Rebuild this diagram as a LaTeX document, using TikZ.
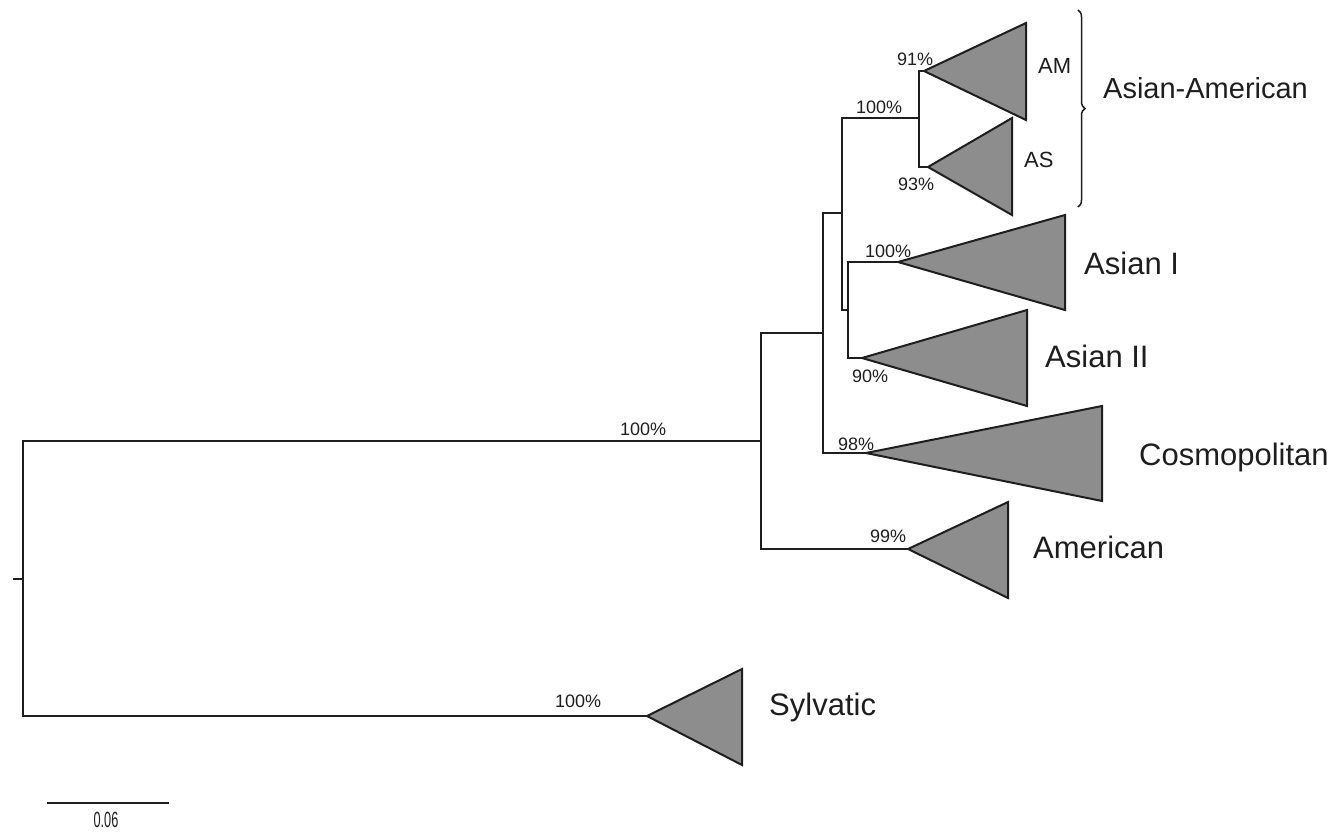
\documentclass[tikz,border=0pt]{standalone}
\usepackage{fontspec}
\setmainfont{Liberation Sans}
\usetikzlibrary{decorations.pathreplacing}
\definecolor{cladefill}{RGB}{141,141,141}
\definecolor{inkline}{RGB}{30,30,30}
\begin{document}
\begin{tikzpicture}[x=1pt,y=-1pt,
  branch/.style={draw=inkline,line width=2pt},
  clade/.style={draw=inkline,fill=cladefill,line width=2pt,line join=miter},
  pct/.style={anchor=base west,inner sep=0pt,font=\fontsize{18}{20}\selectfont,text=inkline},
  bigl/.style={anchor=base west,inner sep=0pt,font=\fontsize{31}{34}\selectfont,text=inkline},
  smalll/.style={anchor=base west,inner sep=0pt,font=\fontsize{22}{24}\selectfont,text=inkline}]
\useasboundingbox (0,0) rectangle (1342,831);
% internal nodes
\coordinate (stub) at (13,579);
\coordinate (root) at (23,579);
\coordinate (A) at (761,441);
\coordinate (B) at (823,333);
\coordinate (C) at (842,213);
\coordinate (D) at (919,118);
\coordinate (E) at (848,310);
% clade apexes
\coordinate (amA) at (924,71);
\coordinate (asA) at (928,167);
\coordinate (a1A) at (898,262);
\coordinate (a2A) at (862,358);
\coordinate (coA) at (866,453);
\coordinate (ameA) at (908,549);
\coordinate (syA) at (647,716);
% connectors
\draw[branch] (stub) -- (root);
\draw[branch] (root) |- (A);
\draw[branch] (root) |- (syA);
\draw[branch] (A) |- (B);
\draw[branch] (A) |- (ameA);
\draw[branch] (B) |- (C);
\draw[branch] (B) |- (coA);
\draw[branch] (C) |- (D);
\draw[branch] (C) |- (E);
\draw[branch] (D) |- (amA);
\draw[branch] (D) |- (asA);
\draw[branch] (E) |- (a1A);
\draw[branch] (E) |- (a2A);
% collapsed clades
\draw[clade] (amA) -- (1026,23) -- (1026,120) -- cycle;
\draw[clade] (asA) -- (1012,118) -- (1012,215) -- cycle;
\draw[clade] (a1A) -- (1065,215) -- (1065,310) -- cycle;
\draw[clade] (a2A) -- (1027,310) -- (1027,406) -- cycle;
\draw[clade] (coA) -- (1102,406) -- (1102,501) -- cycle;
\draw[clade] (ameA) -- (1008,502) -- (1008,598) -- cycle;
\draw[clade] (syA) -- (742,669) -- (742,765) -- cycle;
% support values
\node[pct] (p91) at (897,65) {91\%};
\node[pct] (pD) at (856,113) {100\%};
\node[pct] (p93) at (898,190) {93\%};
\node[pct] (pA1) at (865,257) {100\%};
\node[pct] (p90) at (852,382) {90\%};
\node[pct] (p98) at (838,450) {98\%};
\node[pct] (p99) at (870,542) {99\%};
\node[pct] (pA) at (620,435) {100\%};
\node[pct] (pS) at (555,707) {100\%};
% clade labels
\node[smalll] (lAM) at (1038,73) {AM};
\node[smalll] (lAS) at (1024,167) {AS};
\node[bigl,font=\fontsize{29}{32}\selectfont] (lAA) at (1103,98) {Asian-American};
\node[bigl] (lA1) at (1084,274) {Asian I};
\node[bigl] (lA2) at (1045,367) {Asian II};
\node[bigl] (lCo) at (1139,465) {Cosmopolitan};
\node[bigl] (lAm) at (1033,558) {American};
\node[bigl] (lSy) at (769,715) {Sylvatic};
% brace
\coordinate (brT) at (1078,10);
\coordinate (brB) at (1078,207);
\draw[inkline,line width=1.5pt,decorate,decoration={brace,amplitude=7pt}] (brT) -- (brB);
% scale bar
\coordinate (sbL) at (47,803);
\coordinate (sbR) at (169,803);
\draw[inkline,line width=1.3pt] (sbL) -- (sbR);
\node[inner sep=0pt,anchor=base,text=inkline] (sbT) at (106,827) {\scalebox{0.58}[1]{\fontsize{22}{24}\selectfont 0.06}};
\end{tikzpicture}
\end{document}
